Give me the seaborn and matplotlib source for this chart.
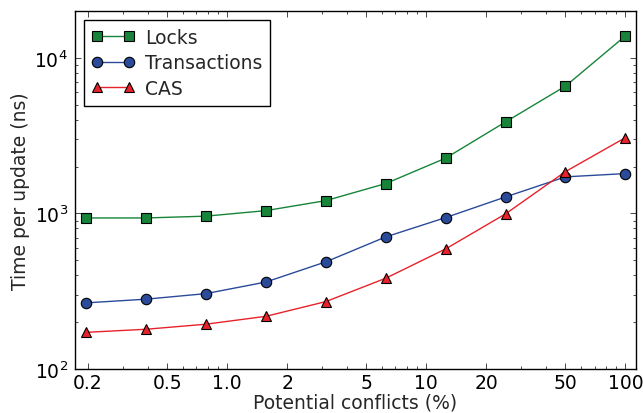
import matplotlib
matplotlib.use("Agg")
import matplotlib.pyplot as plt
import matplotlib.ticker as mticker
import numpy as np
import pandas as pd
import seaborn as sns

# Fraction of potentially conflicting updates (%), doubling each step
conflicts = [0.195, 0.39, 0.78, 1.5625, 3.125, 6.25, 12.5, 25, 50, 100]

# Mean time per update (ns)
locks = [935, 935, 960, 1042, 1208, 1555, 2265, 3873, 6580, 13840]
transactions = [266, 281, 305, 362, 488, 706, 940, 1276, 1718, 1803]
cas = [172, 180, 194, 218, 271, 383, 591, 993, 1857, 3070]

x_ticks = [0.2, 0.5, 1.0, 2, 5, 10, 20, 50, 100]
x_tick_labels = ["0.2", "0.5", "1.0", "2", "5", "10", "20", "50", "100"]

sns.set_style("ticks")
plt.rcParams.update({
    "font.family": ["DejaVu Sans"],
    "font.size": 13.5,
    "xtick.direction": "in",
    "ytick.direction": "in",
    "xtick.top": True,
    "ytick.right": True,
    "xtick.major.size": 4,
    "ytick.major.size": 4,
    "xtick.minor.size": 2,
    "ytick.minor.size": 2,
    "xtick.major.width": 0.5,
    "ytick.major.width": 0.5,
    "xtick.minor.width": 0.5,
    "ytick.minor.width": 0.5,
    "xtick.labelsize": 13.5,
    "ytick.labelsize": 13.5,
    "xtick.color": "black",
    "ytick.color": "black",
    "axes.edgecolor": "black",
    "axes.linewidth": 1.0,
    "xtick.major.pad": 3,
    "ytick.major.pad": 5,
})

df = pd.DataFrame({
    "conflicts": conflicts * 3,
    "time": locks + transactions + cas,
    "method": ["Locks"] * 10 + ["Transactions"] * 10 + ["CAS"] * 10,
})

styles = {
    "Locks": dict(color="#17843a", marker="s"),
    "Transactions": dict(color="#2a4a9a", marker="o"),
    "CAS": dict(color="#e8222a", marker="^"),
}

fig = plt.figure(figsize=(6.43, 4.14), dpi=100)
ax = fig.add_axes([0.1166, 0.1063, 0.8725, 0.8647])

for name, st in styles.items():
    sub = df[df["method"] == name]
    sns.lineplot(data=sub, x="conflicts", y="time", ax=ax, label=name,
                 color=st["color"], marker=st["marker"], markersize=7.5,
                 markeredgecolor="black", markeredgewidth=0.8,
                 linewidth=1.0, sort=False)

ax.set_xscale("log")
ax.set_yscale("log")
ax.set_xlim(0.172, 113)
ax.set_ylim(100, 20000)

ax.xaxis.set_major_locator(mticker.FixedLocator(x_ticks))
ax.xaxis.set_major_formatter(mticker.FixedFormatter(x_tick_labels))
ax.xaxis.set_minor_locator(mticker.LogLocator(base=10, subs=np.arange(2, 10)))
ax.xaxis.set_minor_formatter(mticker.NullFormatter())
ax.yaxis.set_major_locator(mticker.LogLocator(base=10))
ax.yaxis.set_major_formatter(mticker.LogFormatterMathtext())
ax.yaxis.set_minor_locator(mticker.LogLocator(base=10, subs=np.arange(2, 10)))
ax.yaxis.set_minor_formatter(mticker.NullFormatter())
ax.tick_params(which="both", top=True, right=True, direction="in")

ax.set_xlabel("Potential conflicts (%)", fontsize=13.5, labelpad=0)
ax.set_ylabel("Time per update (ns)", fontsize=13.5, labelpad=3)

leg = ax.legend(loc="upper left", numpoints=2, fontsize=13.5, frameon=True,
                fancybox=False, framealpha=1.0, edgecolor="black",
                borderaxespad=0.5, handlelength=2.3, labelspacing=0.35,
                borderpad=0.4, handletextpad=0.55)
leg.get_frame().set_linewidth(1.0)

for s in ax.spines.values():
    s.set_visible(True)

fig.savefig("out.png", dpi=100)
